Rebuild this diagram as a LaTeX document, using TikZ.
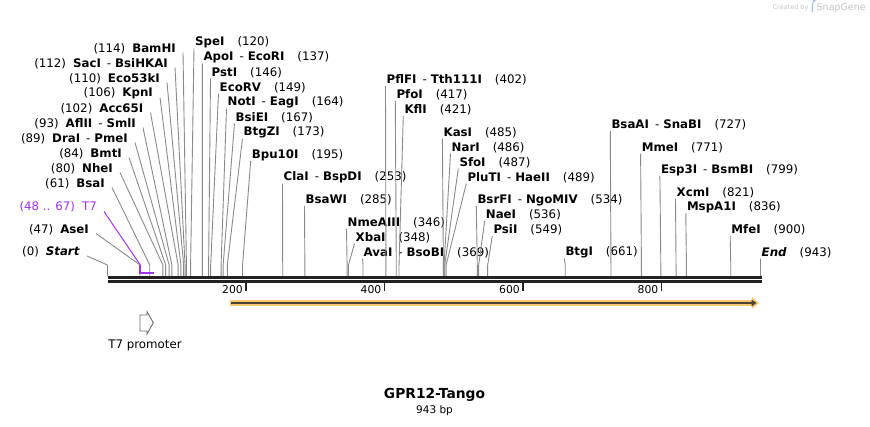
\documentclass[tikz,border=0pt]{standalone}
\usepackage{fontspec}
\setmainfont{DejaVu Sans}
\usetikzlibrary{arrows.meta}
\definecolor{conngray}{HTML}{8A8A8A}
\definecolor{t7purple}{HTML}{A033F0}
\definecolor{orfor}{HTML}{F8C56F}
\definecolor{orfdark}{HTML}{4A4232}
\definecolor{bbone}{HTML}{222222}
\definecolor{credgray}{HTML}{C4C4C4}
\definecolor{credblue}{HTML}{A9C3DE}
\newcommand\nm[1]{\textbf{#1}}
\newcommand\dsh{\hspace{6pt}-\hspace{4pt}}
\newcommand\gapL{\hspace{7pt}}
\newcommand\gapR{\hspace{13pt}}
% #1 name, #2 x edge, #3 y, #4 site position (bp), #5 text
\newcommand\leftcut[5]{%
  \node[lbl, anchor=east] (#1) at (#2,#3) {#5};
  \coordinate (#1-k) at ({107.5+0.6925*#4},265);
  \coordinate (#1-s) at ({107.5+0.6925*#4},276);
  \draw[conn] ([shift={(7,4)}]#1.east) -- (#1-k) -- (#1-s);
}
\newcommand\rightcut[5]{%
  \node[lbl, anchor=west] (#1) at (#2,#3) {#5};
  \coordinate (#1-k) at ({107.5+0.6925*#4},265);
  \coordinate (#1-s) at ({107.5+0.6925*#4},276);
  \draw[conn] ([shift={(-1,6)}]#1.west) -- (#1-k) -- (#1-s);
}
\begin{document}
\begin{tikzpicture}[x=1pt,y=-1pt,
  lbl/.style={inner sep=0pt, font=\fontsize{11.8}{13}\selectfont},
  conn/.style={draw=conngray, line width=0.9pt},
  tick/.style={draw=bbone, line width=1.8pt},
  ticklbl/.style={inner sep=0pt, anchor=east, font=\fontsize{10.8}{12}\selectfont}]
\fill[white] (0,0) rectangle (870,426);
\useasboundingbox (0,0) rectangle (870,426);

% credit
\node[inner sep=0pt, anchor=west, text=credgray, font=\fontsize{6.5}{7}\selectfont] (credA) at (772.5,7.5) {Created by};
\fill[credblue] (811.5,2.5) rectangle (813.2,12) (811.5,2.5) -- (813.5,2.5) arc (90:-90:2.2 and 2.4) -- (811.5,7.3) -- cycle;
\node[inner sep=0pt, anchor=west, text=credgray, font=\fontsize{9.5}{10}\selectfont] (credB) at (816.5,7.5) {SnapGene};

% left labels
\leftcut{bamhi}{176}{48.5}{114}{(114)\gapL\nm{BamHI}}
\leftcut{saci}{168}{63.5}{112}{(112)\gapL\nm{SacI}\dsh\nm{BsiHKAI}}
\leftcut{eco}{160}{78.5}{110}{(110)\gapL\nm{Eco53kI}}
\leftcut{kpni}{153}{93.5}{106}{(106)\gapL\nm{KpnI}}
\leftcut{acc}{143.5}{108.5}{102}{(102)\gapL\nm{Acc65I}}
\leftcut{aflii}{136}{123.5}{93}{(93)\gapL\nm{AflII}\dsh\nm{SmlI}}
\leftcut{drai}{128}{138.5}{89}{(89)\gapL\nm{DraI}\dsh\nm{PmeI}}
\leftcut{bmti}{122}{153.5}{84}{(84)\gapL\nm{BmtI}}
\leftcut{nhei}{113}{168.5}{80}{(80)\gapL\nm{NheI}}
\leftcut{bsai}{105}{183.5}{61}{(61)\gapL\nm{BsaI}}
\leftcut{asei}{89}{229.5}{47}{(47)\gapL\nm{AseI}}
\leftcut{start}{80}{252}{0}{(0)\gapL\textbf{\itshape Start}}

% right labels
\rightcut{spei}{195}{42.5}{120}{\nm{SpeI}\gapR(120)}
\rightcut{apoi}{203.3}{57.5}{137}{\nm{ApoI}\dsh\nm{EcoRI}\gapR(137)}
\rightcut{psti}{211.5}{72.5}{146}{\nm{PstI}\gapR(146)}
\rightcut{ecorv}{219.5}{87.5}{149}{\nm{EcoRV}\gapR(149)}
\rightcut{noti}{227.5}{102.5}{164}{\nm{NotI}\dsh\nm{EagI}\gapR(164)}
\rightcut{bsiei}{235.5}{117.5}{167}{\nm{BsiEI}\gapR(167)}
\rightcut{btgzi}{243.5}{132.5}{173}{\nm{BtgZI}\gapR(173)}
\rightcut{bpu}{251.7}{155}{195}{\nm{Bpu10I}\gapR(195)}
\rightcut{clai}{283.5}{177.5}{253}{\nm{ClaI}\dsh\nm{BspDI}\gapR(253)}
\rightcut{bsawi}{305.5}{200}{285}{\nm{BsaWI}\gapR(285)}
\rightcut{nme}{347.5}{222.5}{346}{\nm{NmeAIII}\gapR(346)}
\rightcut{xbai}{355.5}{237.5}{348}{\nm{XbaI}\gapR(348)}
\rightcut{avai}{363.5}{252.5}{369}{\nm{AvaI}\dsh\nm{BsoBI}\gapR(369)}
\rightcut{pflfi}{386.5}{80}{402}{\nm{PflFI}\dsh\nm{Tth111I}\gapR(402)}
\rightcut{pfoi}{396.3}{95}{417}{\nm{PfoI}\gapR(417)}
\rightcut{kfli}{404.3}{110}{421}{\nm{KflI}\gapR(421)}
\rightcut{kasi}{443.4}{132.5}{485}{\nm{KasI}\gapR(485)}
\rightcut{nari}{451.5}{147.5}{486}{\nm{NarI}\gapR(486)}
\rightcut{sfoi}{459.3}{162.5}{487}{\nm{SfoI}\gapR(487)}
\rightcut{pluti}{467.3}{177.5}{489}{\nm{PluTI}\dsh\nm{HaeII}\gapR(489)}
\rightcut{bsrfi}{477.3}{200}{534}{\nm{BsrFI}\dsh\nm{NgoMIV}\gapR(534)}
\rightcut{naei}{485.7}{215}{536}{\nm{NaeI}\gapR(536)}
\rightcut{psii}{493.3}{230}{549}{\nm{PsiI}\gapR(549)}
\rightcut{btgi}{565.3}{252.5}{661}{\nm{BtgI}\gapR(661)}
\rightcut{bsaai}{611.3}{125}{727}{\nm{BsaAI}\dsh\nm{SnaBI}\gapR(727)}
\rightcut{mmei}{641.6}{147.5}{771}{\nm{MmeI}\gapR(771)}
\rightcut{esp}{660.9}{170}{799}{\nm{Esp3I}\dsh\nm{BsmBI}\gapR(799)}
\rightcut{xcmi}{676.5}{192.5}{821}{\nm{XcmI}\gapR(821)}
\rightcut{mspa}{686.8}{207.5}{836}{\nm{MspA1I}\gapR(836)}
\rightcut{mfei}{731.2}{230}{900}{\nm{MfeI}\gapR(900)}
\rightcut{endl}{761.5}{252.5}{943}{\textbf{\itshape End}\gapR(943)}

% T7 feature
\node[lbl, anchor=east, text=t7purple] (t7l) at (97,207) {(48 .. 67)\gapL T7};
\coordinate (t7a) at (140.3,265);
\coordinate (t7b) at (140.3,272.7);
\coordinate (t7c) at (154,272.7);
\draw[t7purple, line width=1pt] ([shift={(7,4.5)}]t7l.east) -- (t7a);
\draw[t7purple, line width=1.8pt] (t7a) -- (t7b) -- (t7c);

% backbone
\coordinate (bb0) at (107.5,277.5);
\coordinate (bb1) at (761.5,277.5);
\coordinate (bc0) at (107.5,281.5);
\coordinate (bc1) at (761.5,281.5);
\draw[bbone, line width=3pt] (bb0) -- (bb1);
\draw[bbone, line width=2.6pt] (bc0) -- (bc1);

% ticks
\foreach \v in {200,400,600,800}{
  \coordinate (tk\v) at ({107.5+0.6925*\v},283);
  \draw[tick] (tk\v) -- ++(0,8);
  \node[ticklbl] (tl\v) at ([shift={(-3,6.5)}]tk\v) {\v};
}

% ORF arrow
\coordinate (orfA) at (229.5,303);
\coordinate (orfB) at (759,303);
\coordinate (orfC) at (231,303);
\coordinate (orfD) at (756.5,303);
\draw[orfor, line width=5.8pt, -{Triangle[length=7pt,width=11pt]}] (orfA) -- (orfB);
\draw[orfdark, line width=2pt, -{Triangle[length=5pt,width=6.5pt]}] (orfC) -- (orfD);

% T7 promoter
\draw[draw=gray!85!black, fill=white, line width=0.9pt, line join=miter]
  (140,315) -- (147,315) -- (147,311.7) -- (153.3,322.7) -- (147,334) -- (147,331) -- (140,331) -- cycle;
\node[lbl, anchor=center] (t7p) at (145,345) {T7 promoter};

% title
\node[inner sep=0pt, font=\fontsize{13.8}{15}\selectfont\bfseries] (title) at (434.5,395) {GPR12-Tango};
\node[inner sep=0pt, font=\fontsize{10.5}{12}\selectfont] (bp) at (434.5,410.5) {943 bp};
\end{tikzpicture}
\end{document}
